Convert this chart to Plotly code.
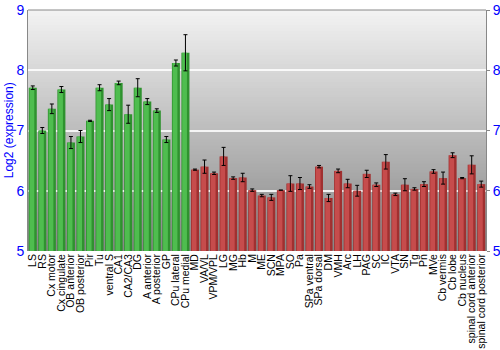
import plotly.graph_objects as go

green_regions = ["LS", "RS", "Cx motor", "Cx cingulate", "OB anterior", "OB posterior", "Pir", "Tu",
                 "ventral S", "CA1", "CA2/CA3", "DG", "A anterior", "A posterior", "GP",
                 "CPu lateral", "CPu medial"]
green_values = [7.71, 7.00, 7.36, 7.68, 6.80, 6.90, 7.16, 7.71, 7.43, 7.79, 7.27, 7.71, 7.48, 7.33, 6.85, 8.12, 8.29]
green_errors = [0.03, 0.05, 0.08, 0.05, 0.10, 0.10, 0.01, 0.05, 0.10, 0.03, 0.15, 0.15, 0.05, 0.03, 0.05, 0.05, 0.30]

red_regions = ["MD", "VA/VL", "VPM/VPL", "LG", "MG", "Hb", "M", "ME", "SCN", "MPA", "SO", "Pa",
               "SPa ventral", "SPa dorsal", "DM", "VMH", "Arc", "LH", "PAG", "SC", "IC", "VTA", "SN",
               "Tg", "Pn", "MVe", "Cb vermis", "Cb lobe", "Cb nucleus", "spinal cord anterior",
               "spinal cord posterior"]
red_values = [6.35, 6.40, 6.29, 6.57, 6.21, 6.22, 6.01, 5.92, 5.89, 6.01, 6.12, 6.12, 6.07, 6.40, 5.88,
              6.33, 6.12, 6.00, 6.28, 6.10, 6.48, 5.94, 6.10, 6.03, 6.11, 6.32, 6.21, 6.59, 6.21, 6.43, 6.11]
red_errors = [0.01, 0.11, 0.02, 0.15, 0.02, 0.07, 0.02, 0.02, 0.05, 0.00, 0.13, 0.10, 0.03, 0.02, 0.06,
              0.03, 0.07, 0.09, 0.06, 0.03, 0.12, 0.02, 0.10, 0.02, 0.04, 0.03, 0.10, 0.04, 0.01, 0.15, 0.05]

y_ticks = [5, 6, 7, 8, 9]
y_min, y_max = 5, 9

categories = green_regions + red_regions
BASE = 5

fig = go.Figure()

# Background gradient (plot area): overlapping bands, no seams
n_bands = 80
top_c = (242, 242, 242)
bot_c = (134, 134, 134)
for i in range(n_bands):
    t = i / (n_bands - 1)
    c = tuple(int(round(top_c[k] + (bot_c[k] - top_c[k]) * t)) for k in range(3))
    fig.add_shape(type="rect", xref="x domain", yref="y domain",
                  x0=0, x1=1, y0=0, y1=1 - i / n_bands,
                  fillcolor="rgb(%d,%d,%d)" % c, line_width=0, layer="below")

def add_group(names, vals, errs, dark, light):
    heights = [v - BASE for v in vals]
    fig.add_trace(go.Bar(x=names, y=heights, base=BASE, width=0.84,
                         marker=dict(color=dark, line=dict(width=0)),
                         hoverinfo="skip", showlegend=False))
    fig.add_trace(go.Bar(x=names, y=heights, base=BASE, width=0.5, offset=-0.34,
                         marker=dict(color=light, line=dict(width=0)),
                         hoverinfo="skip", showlegend=False))
    fig.add_trace(go.Bar(x=names, y=heights, base=BASE, width=0.84,
                         marker=dict(color="rgba(0,0,0,0)", line=dict(width=0)),
                         error_y=dict(type="data", array=errs, color="black", thickness=1, width=2),
                         showlegend=False))

add_group(green_regions, green_values, green_errors, "#2f922f", "#4fbd4f")
add_group(red_regions, red_values, red_errors, "#a03030", "#c64c4c")

# invisible trace for right axis
fig.add_trace(go.Scatter(x=[categories[0]], y=[y_min], yaxis="y2", mode="markers",
                         marker=dict(opacity=0), hoverinfo="skip", showlegend=False))

fig.update_layout(
    width=500, height=350,
    margin=dict(l=28, r=14, t=10, b=99),
    paper_bgcolor="white",
    plot_bgcolor="rgba(0,0,0,0)",
    barmode="overlay",
    font=dict(family="Liberation Sans, Arial, sans-serif"),
    xaxis=dict(categoryorder="array", categoryarray=categories, tickangle=-90,
               tickmode="array", tickvals=categories, ticktext=categories,
               tickfont=dict(size=10.5, color="black"), showgrid=False, ticks="",
               showline=False, range=[-0.5, len(categories) - 0.5], automargin=False),
    yaxis=dict(range=[y_min, y_max], tickvals=y_ticks, tickfont=dict(size=14, color="blue"),
               showgrid=True, gridcolor="rgba(255,255,255,0.85)", gridwidth=1.5,
               showline=True, linecolor="#888888", linewidth=1, mirror=False,
               zeroline=False, ticks="", automargin=False),
    yaxis2=dict(range=[y_min, y_max], tickvals=y_ticks, tickfont=dict(size=14, color="blue"),
                overlaying="y", side="right", showgrid=False, showline=True,
                linecolor="#888888", linewidth=1, ticks="outside", ticklen=3,
                tickcolor="#888888", zeroline=False, automargin=False),
)

fig.add_shape(type="line", xref="paper", yref="paper", x0=0, x1=1, y0=1, y1=1,
              line=dict(color="#888888", width=1))

fig.add_annotation(text="Log2 (expression)", xref="paper", yref="paper",
                   x=-0.042, y=0.5, textangle=-90, showarrow=False,
                   xanchor="center", yanchor="middle",
                   font=dict(size=12, color="blue"))

fig.write_html("out.html")
